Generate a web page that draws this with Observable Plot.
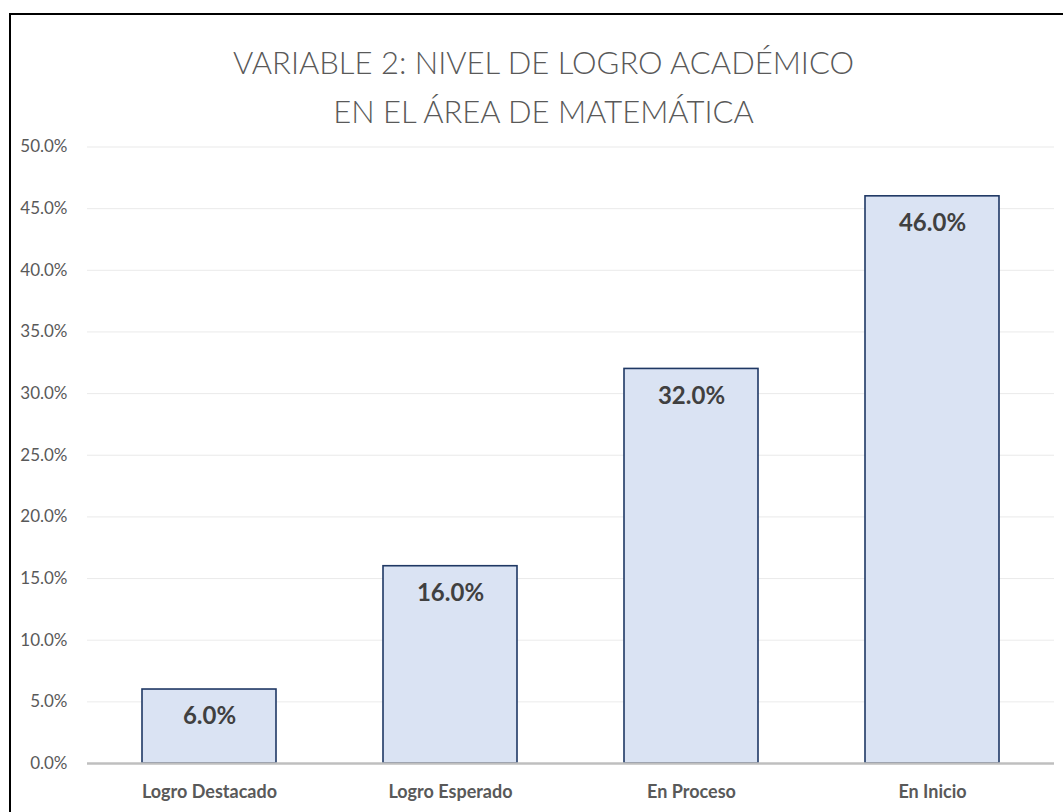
<!DOCTYPE html>
<html>
<head>
<meta charset="utf-8">
<script src="https://cdn.jsdelivr.net/npm/d3@7"></script>
<script src="https://cdn.jsdelivr.net/npm/@observablehq/plot@0.6"></script>
<style>
  html, body { margin: 0; padding: 0; background: #fff; }
  #wrap { position: relative; width: 1063px; height: 812px; overflow: hidden; font-family: Lato, "Open Sans", sans-serif; }
  #frame { position: absolute; left: 9px; top: 13px; width: 1100px; height: 900px; border-top: 2px solid #000; border-left: 2px solid #000; box-sizing: border-box; pointer-events: none; }
  #title { position: absolute; left: 0; top: 0; width: 1087px; text-align: center; padding-top: 38px; font-size: 31px; line-height: 49px; font-weight: 300; color: #595959; letter-spacing: 0; }
  #chart { position: absolute; left: 0; top: 130px; }
</style>
</head>
<body>
<div id="wrap">
  <div id="title">VARIABLE 2: NIVEL DE LOGRO ACADÉMICO<br>EN EL ÁREA DE MATEMÁTICA</div>
  <div id="chart"></div>
  <div id="frame"></div>
</div>
<script>
const categories = ["Logro Destacado", "Logro Esperado", "En Proceso", "En Inicio"];
const values = [6.0, 16.0, 32.0, 46.0];
const yTicks = [0, 5, 10, 15, 20, 25, 30, 35, 40, 45, 50];

const data = categories.map((c, i) => ({category: c, value: values[i]}));
const fmt = d => d.toFixed(1) + "%";

const chart = Plot.plot({
  width: 1063,
  height: 682,
  marginTop: 16.5,
  marginBottom: 49,
  marginLeft: 87,
  marginRight: 9,
  style: {fontFamily: "Lato, 'Open Sans', sans-serif", background: "transparent"},
  x: {domain: categories, paddingInner: 0.442, paddingOuter: 0.221, label: null},
  y: {domain: [0, 50], ticks: yTicks, label: null},
  marks: [
    Plot.gridY(yTicks, {stroke: "#d9d9d9", strokeOpacity: 0.55, strokeWidth: 1}),
    Plot.axisY(yTicks, {tickSize: 0, tickPadding: 20, tickFormat: fmt, fontSize: 17, fill: "#595959", label: null}),
    Plot.axisX({tickSize: 0, tickPadding: 22, fontSize: 18, fontWeight: "bold", fill: "#595959", label: null}),
    Plot.barY(data, {x: "category", y: "value", fill: "#dae3f3", stroke: "#1f3864", strokeWidth: 1.6}),
    Plot.ruleY([0], {stroke: "#bfbfbf", strokeWidth: 2.5}),
    Plot.text(data, {x: "category", y: "value", text: d => fmt(d.value), dy: 27, fontSize: 24, fontWeight: "bold", fill: "#404040"})
  ]
});
document.getElementById("chart").appendChild(chart);
</script>
</body>
</html>
